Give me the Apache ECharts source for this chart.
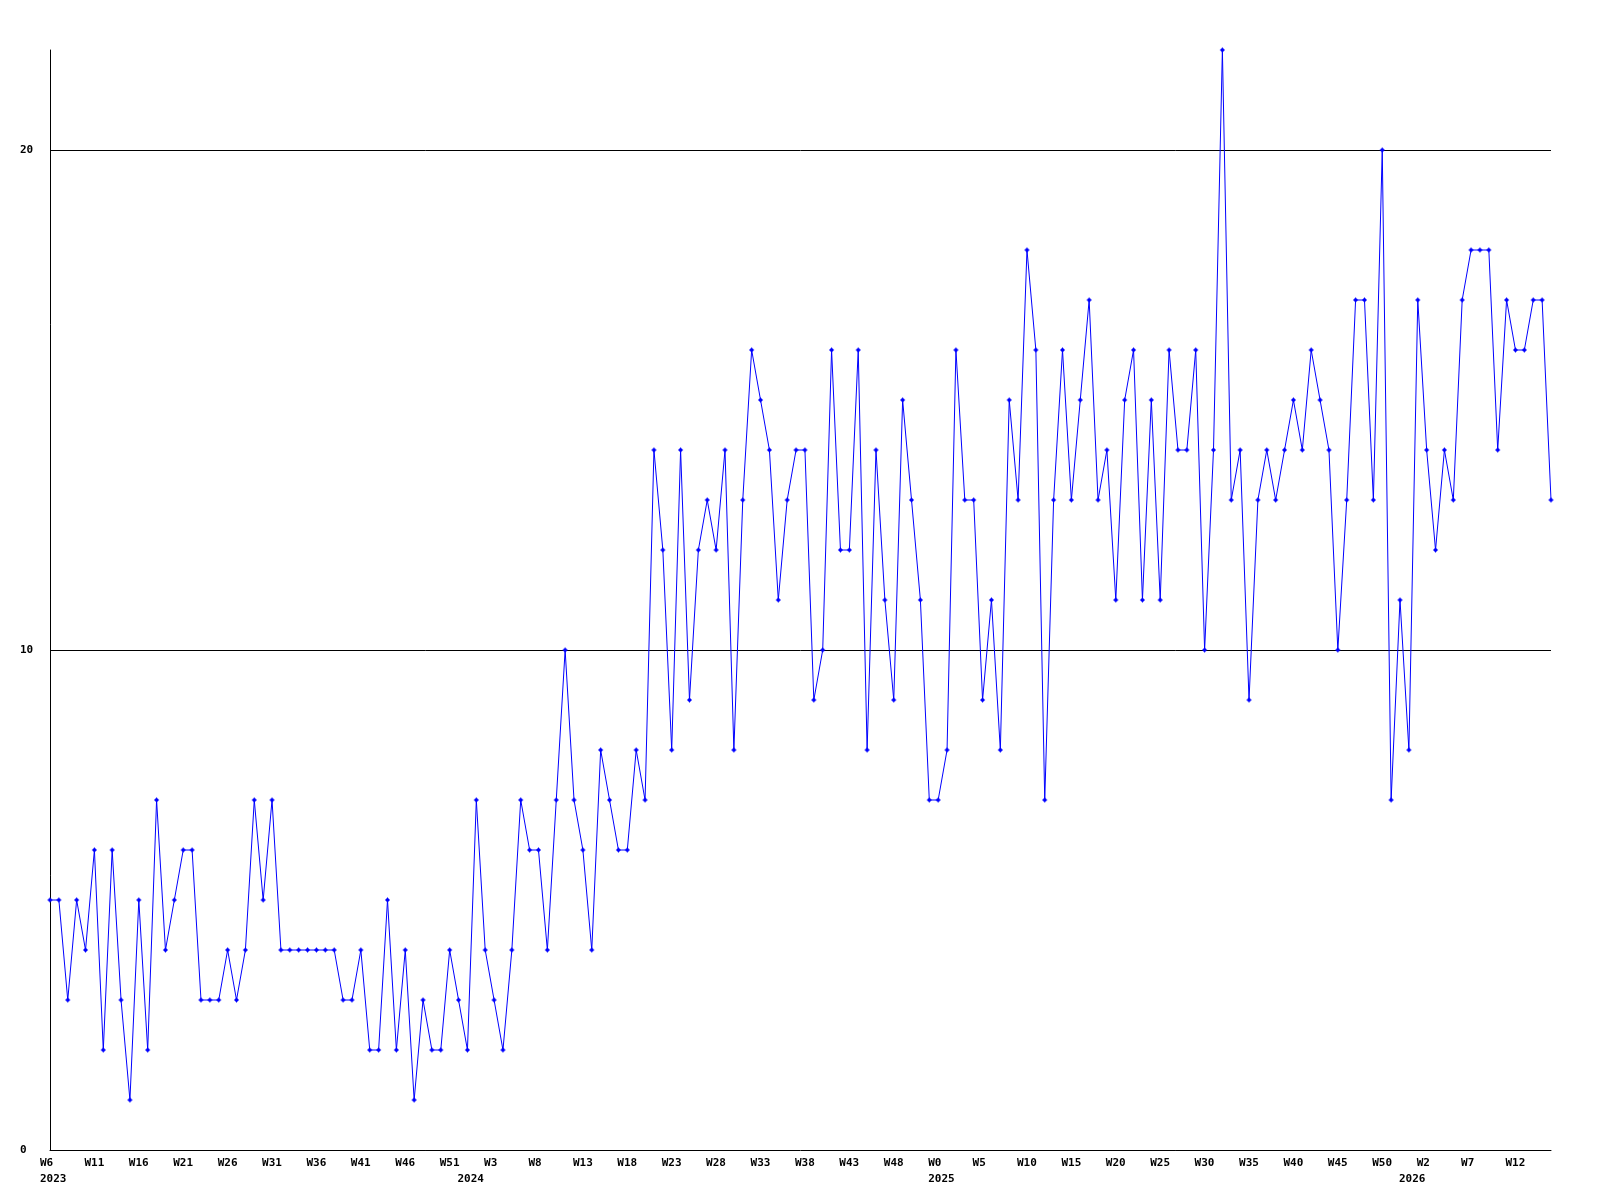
<!DOCTYPE html>
<html>
<head>
<meta charset="utf-8">
<script src="https://cdn.jsdelivr.net/npm/echarts@6/dist/echarts.min.js"></script>
<style>
html,body{margin:0;padding:0;background:#fff;}
#chart{width:1600px;height:1200px;}
</style>
</head>
<body>
<div id="chart"></div>
<script>
// Weekly counts, one array per year (week numbers W0..W52)
const years = [2023, 2024, 2025, 2026];
const firstWeek = [6, 0, 0, 0];
const v2023 = [5,5,3,5,4,6,2,6,3,1,5,2,7,4,5,6,6,3,3,3,4,3,4,7,5,7,4,4,4,4,4,4,4,3,3,4,2,2,5,2,4,1,3,2,2,4,3];
const v2024 = [2,7,4,3,2,4,7,6,6,4,7,10,7,6,4,8,7,6,6,8,7,14,12,8,14,9,12,13,12,14,8,13,16,15,14,11,13,14,14,9,10,16,12,12,16,8,14,11,9,15,13,11,7];
const v2025 = [7,8,16,13,13,9,11,8,15,13,18,16,7,13,16,13,15,17,13,14,11,15,16,11,15,11,16,14,14,16,10,14,22,13,14,9,13,14,13,14,15,14,16,15,14,10,13,17,17,13,20,7,11];
const v2026 = [8,17,14,12,14,13,17,18,18,18,14,17,16,16,17,17,13];
const yTicks = [0, 10, 20];

const yearValues = [v2023, v2024, v2025, v2026];
const categories = [];
const catWeek = [];
const catYear = [];
const values = [];
yearValues.forEach((arr, yi) => {
  arr.forEach((v, k) => {
    const w = firstWeek[yi] + k;
    categories.push(years[yi] + '-W' + w);
    catWeek.push(w);
    catYear.push(years[yi]);
    values.push(v);
  });
});

const chart = echarts.init(document.getElementById('chart'), null, {renderer: 'canvas'});
const font = 'DejaVu Sans Mono';
chart.setOption({
  animation: false,
  backgroundColor: '#ffffff',
  grid: {left: 50, right: 49, top: 50, bottom: 50, containLabel: false},
  xAxis: {
    type: 'category',
    data: categories,
    boundaryGap: false,
    axisLine: {show: true, lineStyle: {color: '#000', width: 1}},
    axisTick: {show: false},
    splitLine: {show: false},
    axisLabel: {
      interval: 0,
      margin: 5,
      align: 'left',
      verticalAlign: 'top',
      padding: [0, 0, 0, -10],
      color: '#000',
      fontFamily: font,
      fontWeight: 'bold',
      fontSize: 11,
      lineHeight: 16,
      formatter: function (val, idx) {
        const showW = idx % 5 === 0;
        const showY = idx === 0 || catWeek[idx] === 0;
        if (!showW && !showY) return '';
        return (showW ? 'W' + catWeek[idx] : '') + (showY ? '\n' + catYear[idx] : '');
      }
    }
  },
  yAxis: {
    type: 'value',
    min: 0,
    max: 22,
    interval: 10,
    axisLine: {show: true, lineStyle: {color: '#000', width: 1}},
    axisTick: {show: false},
    splitLine: {show: true, showMinLine: false, showMaxLine: false, lineStyle: {color: '#000', width: 1}},
    axisLabel: {
      showMaxLabel: false,
      margin: 30,
      align: 'left',
      color: '#000',
      fontFamily: font,
      fontWeight: 'bold',
      fontSize: 11,
      formatter: function (v) { return yTicks.indexOf(v) >= 0 ? String(v) : ''; }
    }
  },
  series: [{
    type: 'line',
    data: values,
    symbol: 'path://M2,0H3V1H4V2H5V3H4V4H3V5H2V4H1V3H0V2H1V1H2Z',
    symbolSize: 5,
    showAllSymbol: true,
    itemStyle: {color: '#0000ff'},
    lineStyle: {color: '#0000ff', width: 1},
    emphasis: {disabled: true}
  }]
});
</script>
</body>
</html>
